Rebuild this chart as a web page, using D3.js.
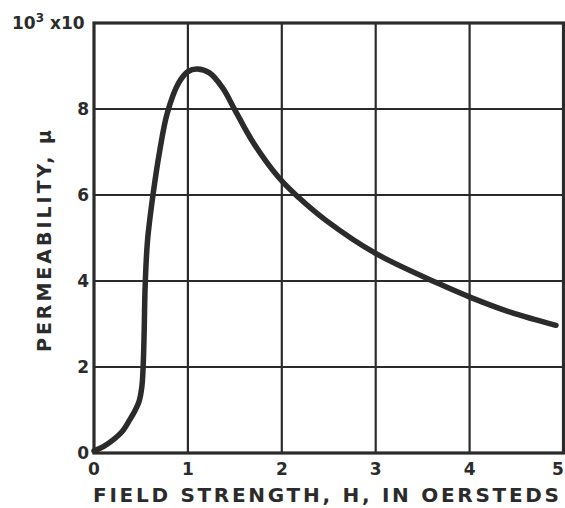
<!DOCTYPE html>
<html>
<head>
<meta charset="utf-8">
<script src="https://cdn.jsdelivr.net/npm/d3@7"></script>
<style>
  html, body { margin: 0; padding: 0; background: #fff; }
  svg { display: block; }
  text { font-family: "DejaVu Sans", sans-serif; font-weight: bold; fill: #2b2b2b; }
</style>
</head>
<body>
<svg id="chart" width="565" height="508"></svg>
<script>
// Field strength H (oersteds) and permeability μ (in thousands)
const fieldStrength = [0, 0.1, 0.2, 0.3, 0.38, 0.44, 0.48, 0.51, 0.525, 0.535, 0.545, 0.57, 0.63, 0.70, 0.78, 0.90, 1.0, 1.1, 1.23, 1.37, 1.5, 1.69, 1.97, 2.18, 2.47, 3.0, 3.67, 4.01, 4.44, 4.92];
const permeability = [0.05, 0.15, 0.3, 0.5, 0.77, 1.0, 1.2, 1.55, 2.1, 2.9, 3.9, 4.94, 6.03, 7.03, 7.9, 8.6, 8.87, 8.93, 8.84, 8.49, 7.98, 7.24, 6.40, 5.94, 5.41, 4.64, 3.94, 3.62, 3.27, 2.97];

const xTicks = [0, 1, 2, 3, 4, 5];
const yTicks = [0, 2, 4, 6, 8];
const xTitle = "FIELD STRENGTH, H, IN OERSTEDS";
const yTitle = "PERMEABILITY, μ";

const svg = d3.select("#chart");
const ink = "#2b2b2b";

const x = d3.scaleLinear().domain([0, 5]).range([94, 563.5]);
const y = d3.scaleLinear().domain([0, 10]).range([453, 23]);

// Grid
const grid = svg.append("g").attr("stroke", ink).attr("stroke-width", 2.2);
grid.selectAll("line.v").data(xTicks.slice(1, -1)).join("line")
  .attr("x1", d => x(d)).attr("x2", d => x(d))
  .attr("y1", y(10)).attr("y2", y(0));
grid.selectAll("line.h").data(yTicks.slice(1)).join("line")
  .attr("x1", x(0)).attr("x2", x(5))
  .attr("y1", d => y(d)).attr("y2", d => y(d));

// Frame
svg.append("rect")
  .attr("x", x(0)).attr("y", y(10))
  .attr("width", x(5) - x(0)).attr("height", y(0) - y(10))
  .attr("fill", "none").attr("stroke", ink).attr("stroke-width", 3.2);

// Curve
const pts = fieldStrength.map((h, i) => [h, permeability[i]]);
const line = d3.line()
  .x(d => x(d[0])).y(d => y(d[1]))
  .curve(d3.curveCatmullRom.alpha(0.5));
svg.append("path").datum(pts)
  .attr("d", line)
  .attr("fill", "none").attr("stroke", ink)
  .attr("stroke-width", 5.5).attr("stroke-linecap", "round").attr("stroke-linejoin", "round");

// X tick labels (the last one is pulled in from the edge)
svg.selectAll("text.xt").data(xTicks).join("text")
  .attr("x", d => Math.min(x(d), 558)).attr("y", 475)
  .attr("text-anchor", "middle").attr("font-size", 17)
  .text(d => d);

// Y tick labels
svg.selectAll("text.yt").data(yTicks).join("text")
  .attr("x", 89).attr("y", d => y(d) + 6)
  .attr("text-anchor", "end").attr("font-size", 17)
  .text(d => d);

// Multiplier label above the y axis
const unitLabel = svg.append("text").attr("x", 12).attr("y", 29).attr("font-size", 17);
unitLabel.append("tspan").text("10");
unitLabel.append("tspan").attr("dy", -7).attr("font-size", 12).text("3");
unitLabel.append("tspan").attr("dy", 7).text(" x10");

// Axis titles
svg.append("text")
  .attr("x", 93).attr("y", 502).attr("font-size", 20)
  .attr("textLength", 466).attr("lengthAdjust", "spacing")
  .text(xTitle);

svg.append("text")
  .attr("transform", "translate(51,352) rotate(-90)")
  .attr("font-size", 19)
  .attr("textLength", 222).attr("lengthAdjust", "spacing")
  .text(yTitle);
</script>
</body>
</html>
